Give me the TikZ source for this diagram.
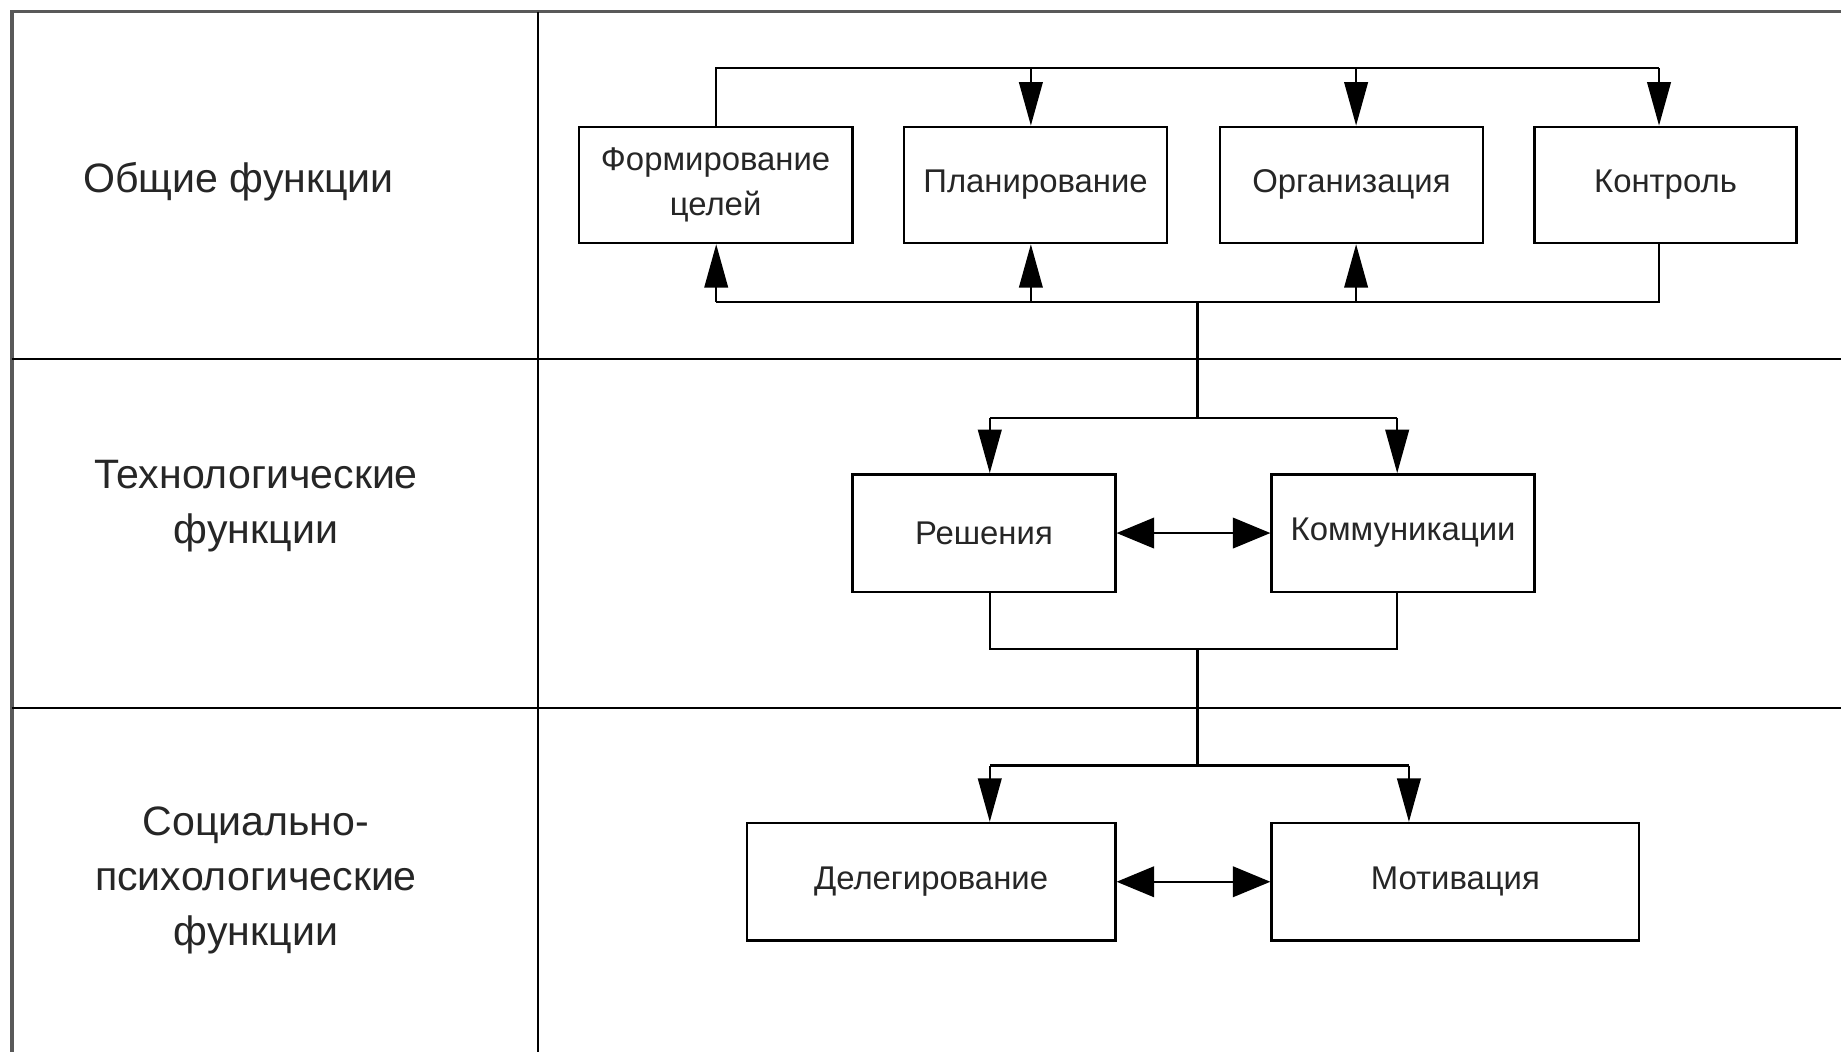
\documentclass[tikz,border=0pt]{standalone}
\usepackage{fontspec}
\setmainfont{Liberation Sans}
\usetikzlibrary{arrows.meta}
\begin{document}
\begin{tikzpicture}[x=1pt,y=-1pt,
  frame/.style={line width=3pt, black!65},
  divider/.style={line width=2pt, black},
  fbox/.style={draw, line width=2pt, minimum height=99pt, inner sep=0pt, align=center,
    font=\fontsize{28}{38}\selectfont, text=black!85},
  lbl/.style={align=center, font=\fontsize{35}{47}\selectfont, text=black!85},
  conn/.style={line width=2pt},
  arr/.style={conn, -{Triangle[length=37pt,width=20pt]}},
  darr/.style={conn, {Triangle[length=32pt,width=26pt]}-{Triangle[length=32pt,width=26pt]}}]
\useasboundingbox (0,0) rectangle (1568,896);
\fill[white] (0,0) rectangle (1568,896);
% table frame
\draw[frame] (10,896) -- (10,10) -- (1568,10);
\draw[divider] (10,306) -- (1568,306);
\draw[divider] (10,603) -- (1568,603);
\draw[divider] (458,10) -- (458,896);
% row labels
\node[lbl] (l1) at (203,155) {Общие функции};
\node[lbl] (l2) at (218,431) {Технологические\\функции};
\node[lbl] (l3) at (218,750) {Социально-\\психологические\\функции};
% boxes
\node[fbox, minimum width=233pt] (f1) at (609.5,157.5) {Формирование\\целей};
\node[fbox, minimum width=224pt] (f2) at (882,157.5) {Планирование};
\node[fbox, minimum width=224pt] (f3) at (1151,157.5) {Организация};
\node[fbox, minimum width=223pt] (f4) at (1418.5,157.5) {Контроль};
\node[fbox, minimum width=224pt, minimum height=100pt] (r1) at (838,454) {Решения};
\node[fbox, minimum width=224pt, minimum height=100pt] (r2) at (1195,454) {Коммуникации};
\node[fbox, minimum width=314pt, minimum height=100pt] (d1) at (793,751) {Делегирование};
\node[fbox, minimum width=313pt, minimum height=100pt] (d2) at (1239.5,751) {Мотивация};
% bus coordinates
\coordinate (tb1) at (610,58);
\coordinate (tb2) at (878,58);
\coordinate (tb3) at (1155,58);
\coordinate (tb4) at (1413,58);
\coordinate (bb1) at (610,257);
\coordinate (bb2) at (878,257);
\coordinate (bb3) at (1155,257);
\coordinate (bb4) at (1413,257);
\coordinate (bbm) at (1020,257);
\coordinate (m1) at (1020,356);
\coordinate (rb1) at (843,356);
\coordinate (rb2) at (1190,356);
\coordinate (rl1) at (843,553);
\coordinate (rl2) at (1190,553);
\coordinate (m2) at (1020,553);
\coordinate (m3) at (1020,652);
\coordinate (db1) at (843,652);
\coordinate (db2) at (1200,652);
% top bus
\draw[conn] (f1.north -| tb1) -- (tb1) -- (tb4);
\draw[arr] (tb2) -- (tb2 |- f2.north);
\draw[arr] (tb3) -- (tb3 |- f3.north);
\draw[arr] (tb4) -- (tb4 |- f4.north);
% bottom bus
\draw[conn] (bb1) -- (bb4) -- (bb4 |- f4.south);
\draw[arr] (bb1) -- (bb1 |- f1.south);
\draw[arr] (bb2) -- (bb2 |- f2.south);
\draw[arr] (bb3) -- (bb3 |- f3.south);
% to row 2
\draw[conn] (bbm) -- (m1);
\draw[conn] (rb1) -- (rb2);
\draw[arr] (rb1) -- (rb1 |- r1.north);
\draw[arr] (rb2) -- (rb2 |- r2.north);
\draw[darr] (r1) -- (r2);
\draw[conn] (r1.south -| rl1) -- (rl1) -- (rl2) -- (r2.south -| rl2);
% to row 3
\draw[conn] (m2) -- (m3);
\draw[conn] (db1) -- (db2);
\draw[arr] (db1) -- (db1 |- d1.north);
\draw[arr] (db2) -- (db2 |- d2.north);
\draw[darr] (d1) -- (d2);
\end{tikzpicture}
\end{document}
